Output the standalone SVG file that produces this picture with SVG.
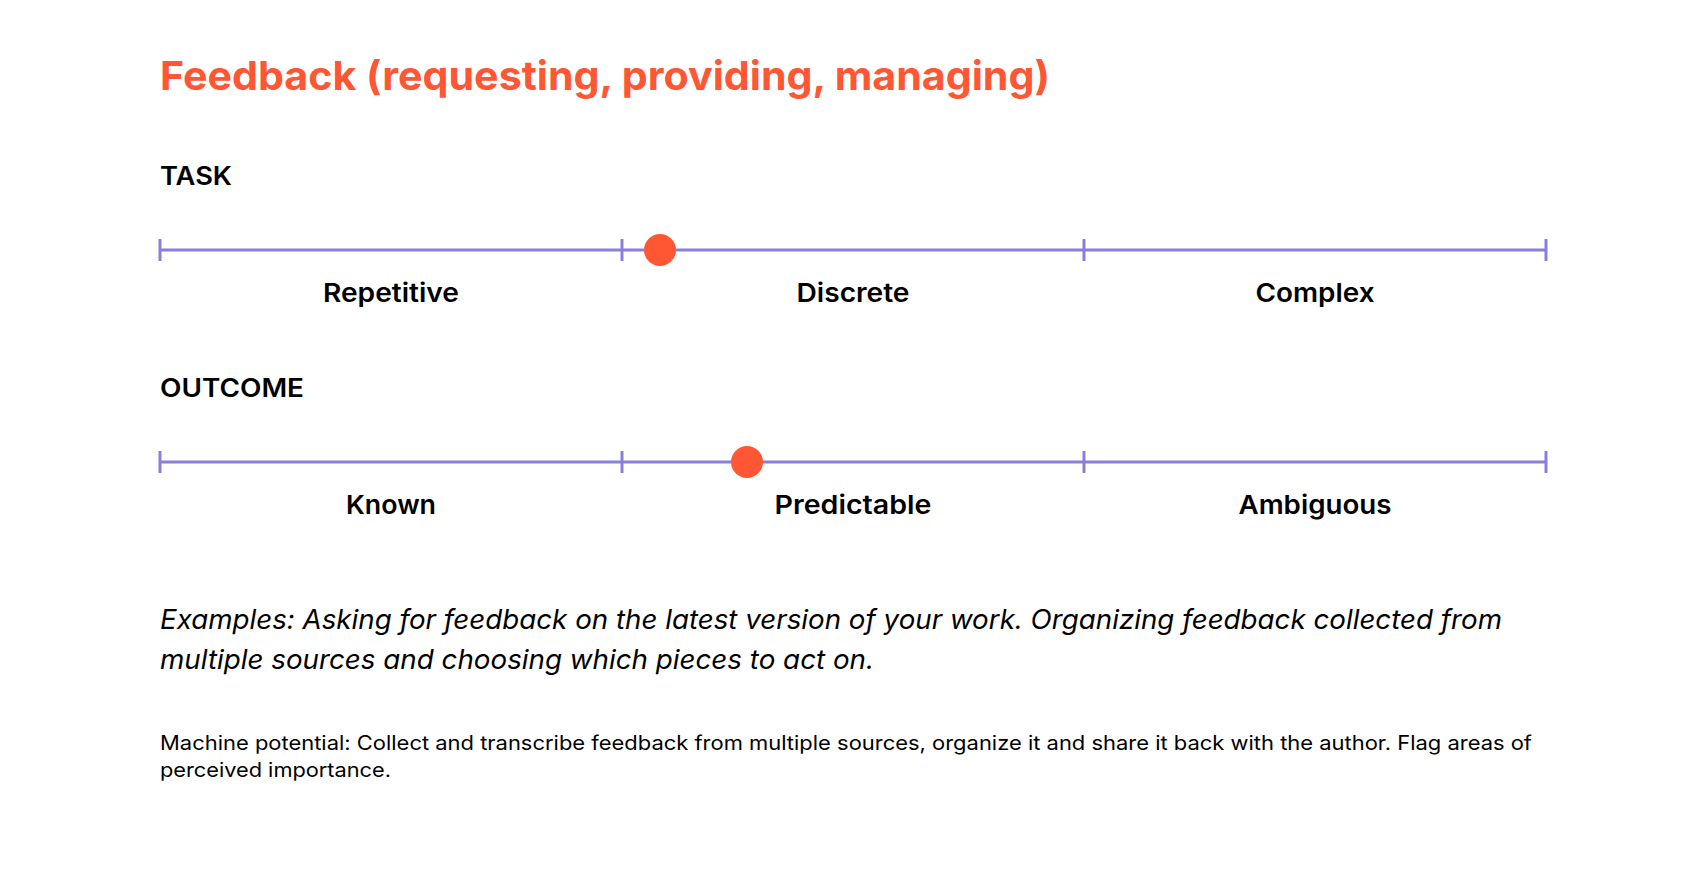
<svg xmlns="http://www.w3.org/2000/svg" width="1706" height="872" viewBox="0 0 1706 872">
<style>
text{font-family:Inter,"Noto Sans","Liberation Sans",sans-serif;fill:#000}
.title{font-size:40px;font-weight:700;fill:#FF5733}
.head{font-size:25px;font-weight:600}
.lab{font-size:26px;font-weight:600;text-anchor:middle}
.ex{font-size:27px;font-style:italic}
.mp{font-size:20px}
.axis{stroke:#8A7EDC;stroke-width:3;fill:none}
.dot{fill:#FF5733}
</style>
<rect width="1706" height="872" fill="#fff"/>
<g id="title"><text class="title" x="160" y="90" textLength="890" lengthAdjust="spacingAndGlyphs">Feedback (requesting, providing, managing)</text></g>
<g id="task">
<text class="head" x="160" y="185" textLength="72" lengthAdjust="spacingAndGlyphs">TASK</text>
<g class="axis">
<line x1="160" y1="250" x2="1546" y2="250"/>
<line x1="160" y1="239" x2="160" y2="261"/>
<line x1="622" y1="239" x2="622" y2="261"/>
<line x1="1084" y1="239" x2="1084" y2="261"/>
<line x1="1546" y1="239" x2="1546" y2="261"/>
</g>
<circle class="dot" cx="660" cy="250" r="16"/>
<text class="lab" x="391" y="302" textLength="136" lengthAdjust="spacingAndGlyphs">Repetitive</text>
<text class="lab" x="853" y="302" textLength="113" lengthAdjust="spacingAndGlyphs">Discrete</text>
<text class="lab" x="1315" y="302" textLength="119" lengthAdjust="spacingAndGlyphs">Complex</text>
</g>
<g id="outcome">
<text class="head" x="160" y="397" textLength="144" lengthAdjust="spacingAndGlyphs">OUTCOME</text>
<g class="axis">
<line x1="160" y1="462" x2="1546" y2="462"/>
<line x1="160" y1="451" x2="160" y2="473"/>
<line x1="622" y1="451" x2="622" y2="473"/>
<line x1="1084" y1="451" x2="1084" y2="473"/>
<line x1="1546" y1="451" x2="1546" y2="473"/>
</g>
<circle class="dot" cx="747" cy="462" r="16"/>
<text class="lab" x="391" y="514" textLength="90" lengthAdjust="spacingAndGlyphs">Known</text>
<text class="lab" x="853" y="514" textLength="157" lengthAdjust="spacingAndGlyphs">Predictable</text>
<text class="lab" x="1315" y="514" textLength="153" lengthAdjust="spacingAndGlyphs">Ambiguous</text>
</g>
<g id="examples">
<text class="ex" x="160" y="629" textLength="1342" lengthAdjust="spacingAndGlyphs">Examples: Asking for feedback on the latest version of your work. Organizing feedback collected from</text>
<text class="ex" x="160" y="669" textLength="714" lengthAdjust="spacingAndGlyphs">multiple sources and choosing which pieces to act on.</text>
</g>
<g id="machine">
<text class="mp" x="160" y="750" textLength="1372" lengthAdjust="spacingAndGlyphs">Machine potential: Collect and transcribe feedback from multiple sources, organize it and share it back with the author. Flag areas of</text>
<text class="mp" x="160" y="777" textLength="231" lengthAdjust="spacingAndGlyphs">perceived importance.</text>
</g>
</svg>
